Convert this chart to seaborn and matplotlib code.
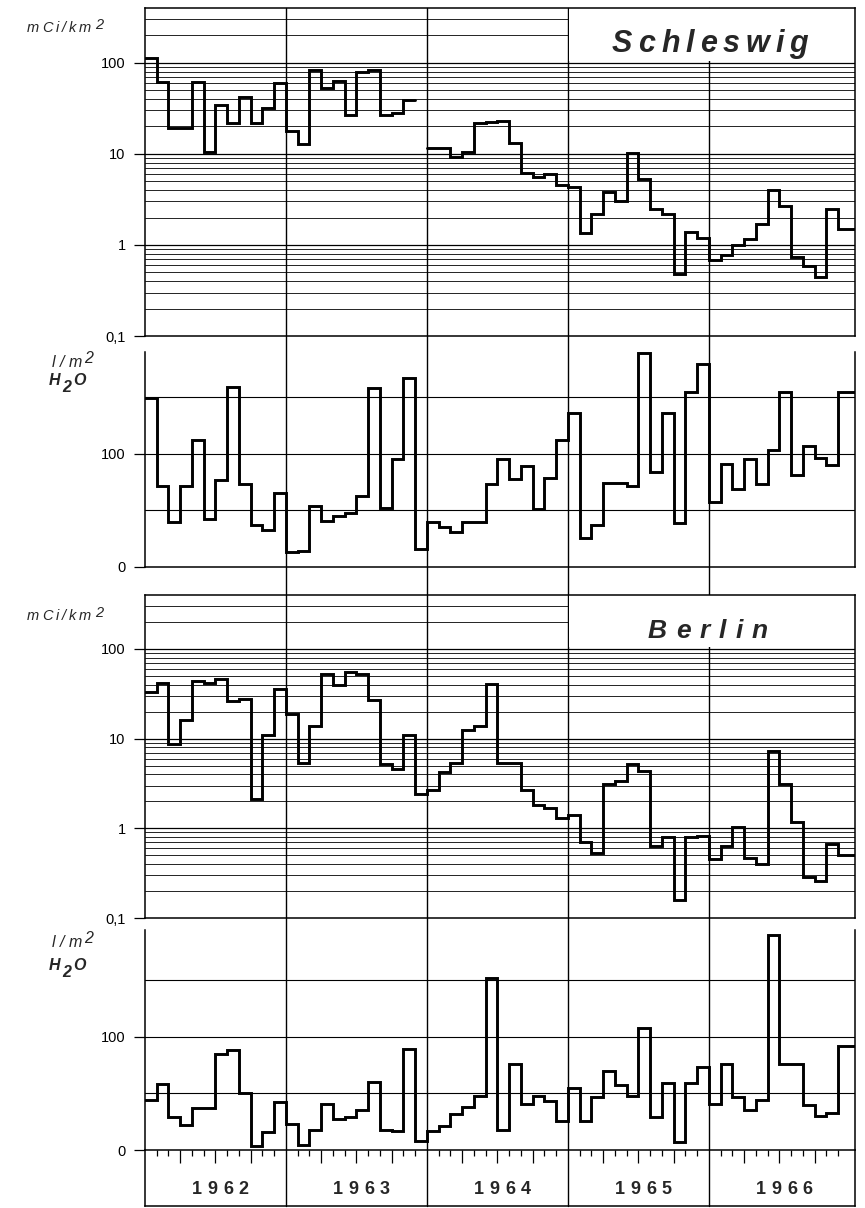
import numpy as np
import pandas as pd
import matplotlib
matplotlib.use("Agg")
import matplotlib.pyplot as plt
import seaborn as sns
from matplotlib.patches import Rectangle
from matplotlib.lines import Line2D
from matplotlib.ticker import NullLocator
import matplotlib.transforms as mtransforms

# ---------------- data (monthly values, Jan 1962 .. Dec 1966) ----------------
years = ["1962", "1963", "1964", "1965", "1966"]

schleswig_activity = [113, 62, 19, 19, 62, 10.5, 34, 22, 42, 22, 32, 60,
                      18, 13, 84, 53, 63, 27, 80, 84, 27, 28, 39, np.nan,
                      11.7, 11.7, 9.3, 10.6, 22, 22.5, 23, 13.3, 6.2, 5.6, 6.0, 4.5,
                      4.3, 1.35, 2.2, 3.8, 3.0, 10.3, 5.3, 2.5, 2.2, 0.48, 1.4, 1.18,
                      0.68, 0.78, 1.0, 1.15, 1.7, 4.0, 2.7, 0.74, 0.58, 0.45, 2.5, 1.5]

schleswig_precip = [149, 72, 40, 72, 112, 42, 77, 159, 73, 37, 33, 65,
                    13, 14, 54, 41, 45, 48, 63, 158, 52, 95, 167, 16,
                    40, 35, 31, 40, 40, 73, 95, 78, 89, 51, 79, 112,
                    136, 26, 37, 74, 74, 72, 189, 84, 136, 39, 155, 179,
                    57, 91, 69, 95, 73, 103, 155, 81, 107, 96, 90, 155]

berlin_activity = [33, 42, 8.8, 16, 44, 42, 46, 26, 28, 2.1, 11, 36,
                   19, 5.3, 14, 53, 40, 55, 52, 27, 5.2, 4.6, 11, 2.4,
                   2.7, 4.3, 5.3, 12.6, 13.7, 41, 5.4, 5.3, 2.7, 1.8, 1.7, 1.3,
                   1.4, 0.7, 0.53, 3.1, 3.4, 5.2, 4.4, 0.64, 0.8, 0.16, 0.8, 0.83,
                   0.46, 0.64, 1.04, 0.47, 0.40, 7.2, 3.1, 1.17, 0.29, 0.26, 0.67, 0.51]

berlin_precip = [44, 58, 29, 22, 37, 37, 85, 88, 50, 3.5, 16, 42,
                 23, 4.4, 18, 41, 27, 29, 35, 60, 18, 17, 89, 8,
                 17, 21, 32, 38, 48, 152, 18, 76, 41, 48, 43, 26,
                 55, 26, 47, 70, 57, 48, 108, 29, 59, 7, 59, 73,
                 41, 76, 47, 35, 44, 190, 76, 76, 40, 30, 33, 92]

activity_ticks = [0.1, 1, 10, 100]
activity_ticklabels = ["0,1", "1", "10", "100"]
precip_ticks = [0, 100]
precip_ticklabels = ["0", "100"]
precip_grid = [50, 100, 150]
stations = ["Schleswig", "Berlin"]

# ---------------- style ----------------
sns.set_style("white")
plt.rcParams["font.family"] = ["Liberation Sans", "DejaVu Sans"]

W, H = 865, 1208
fig = plt.figure(figsize=(W / 100, H / 100), dpi=100)

N = 60
XMAX = 60.43
LEFT, RIGHT = 145, 855


def add_ax(top, bottom):
    ax = fig.add_axes([LEFT / W, 1 - bottom / H, (RIGHT - LEFT) / W, (bottom - top) / H])
    ax.set_facecolor("none")
    return ax


ax1 = add_ax(8, 336)
ax2 = add_ax(352, 567)
ax3 = add_ax(595, 918)
ax4 = add_ax(930, 1150)
ax5 = add_ax(1150, 1206)


def segments(values):
    """split a monthly series into contiguous step segments"""
    vals = list(values)
    out = []
    i = 0
    while i < len(vals):
        if np.isnan(vals[i]):
            i += 1
            continue
        j = i
        while j + 1 < len(vals) and not np.isnan(vals[j + 1]):
            j += 1
        xs = list(range(i, j + 1))
        ys = vals[i:j + 1]
        xs.append(j + 1 if j + 1 < len(vals) else XMAX)
        ys.append(vals[j])
        out.append(pd.DataFrame({"month": xs, "value": ys}))
        i = j + 1
    return out


def draw_series(ax, values):
    for d in segments(values):
        sns.lineplot(data=d, x="month", y="value", drawstyle="steps-post",
                     color="black", linewidth=2.1, estimator=None, sort=False,
                     ax=ax, zorder=3, solid_joinstyle="miter")
    ax.set_xlabel("")
    ax.set_ylabel("")


def style_common(ax, top_spine):
    ax.set_xlim(0, XMAX)
    ax.set_xticks([])
    for s in ["left", "right", "bottom"]:
        ax.spines[s].set_visible(True)
        ax.spines[s].set_color("black")
        ax.spines[s].set_linewidth(1.1)
    ax.spines["top"].set_visible(top_spine)
    ax.spines["top"].set_color("black")
    ax.spines["top"].set_linewidth(1.1)
    ax.tick_params(axis="y", which="major", direction="out", length=8, width=0.9,
                   pad=6, labelsize=10.5, colors="black", left=True)


def activity_panel(ax, values, title):
    ax.set_yscale("log")
    draw_series(ax, values)
    ax.set_ylim(0.1, 400)
    for d in [-1, 0, 1, 2]:
        for k in range(1, 10):
            v = k * 10.0 ** d
            if 0.1 < v < 400:
                ax.axhline(v, color="black", lw=0.9 if k == 1 else 0.6, zorder=1)
    ax.set_yticks(activity_ticks)
    ax.set_yticklabels(activity_ticklabels)
    ax.yaxis.set_minor_locator(NullLocator())
    style_common(ax, True)
    ax.add_patch(Rectangle((36.06, 104), XMAX, 1000, facecolor="white",
                           edgecolor="none", zorder=2.4))


def precip_panel(ax, values, ymax):
    draw_series(ax, values)
    ax.set_ylim(0, ymax)
    for v in precip_grid:
        ax.axhline(v, color="black", lw=0.8, zorder=1)
    ax.set_yticks(precip_ticks)
    ax.set_yticklabels(precip_ticklabels)
    style_common(ax, False)


activity_panel(ax1, schleswig_activity, stations[0])
precip_panel(ax2, schleswig_precip, 190)
activity_panel(ax3, berlin_activity, stations[1])
precip_panel(ax4, berlin_precip, 194)

# ---------------- month tick strip ----------------
ax5.set_xlim(0, XMAX)
ax5.set_ylim(0, 1)
ax5.set_yticks([])
for s in ["left", "right", "bottom"]:
    ax5.spines[s].set_visible(True)
    ax5.spines[s].set_color("black")
    ax5.spines[s].set_linewidth(1.1)
ax5.spines["top"].set_visible(False)
ax5.xaxis.set_ticks_position("top")
quarter_ticks = [m for m in range(1, N) if m % 3 == 0 and m % 12 != 0]
month_ticks = [m for m in range(1, N) if m % 3 != 0]
ax5.set_xticks(quarter_ticks)
ax5.set_xticks(month_ticks, minor=True)
ax5.tick_params(axis="x", which="major", direction="in", length=9.5, width=0.9,
                labeltop=False, labelbottom=False, colors="black")
ax5.tick_params(axis="x", which="minor", direction="in", length=4, width=0.9,
                labeltop=False, labelbottom=False, colors="black")

# ---------------- year separator lines through all panels ----------------
blend = mtransforms.blended_transform_factory(ax1.transData, fig.transFigure)
for k in range(1, len(years)):
    ln = Line2D([12 * k, 12 * k], [1 - 8 / H, 1 - 1206 / H], transform=blend,
                color="black", lw=1.0, zorder=-1)
    fig.add_artist(ln)

# ---------------- letter-spaced text helper ----------------
renderer = fig.canvas.get_renderer()


def char_widths(text, **kw):
    ws = []
    for ch in text:
        t = fig.text(0, 0, ch, **kw)
        ws.append(t.get_window_extent(renderer).width)
        t.remove()
    return ws


def spaced_text(text, x_px, y_px, width_px=None, gap_px=None, align="center", **kw):
    ws = char_widths(text, **kw)
    if gap_px is None:
        gap_px = (width_px - sum(ws)) / max(len(text) - 1, 1)
    total = sum(ws) + gap_px * (len(text) - 1)
    x = x_px - total / 2 if align == "center" else x_px
    for ch, w in zip(text, ws):
        fig.text(x / W, 1 - y_px / H, ch, ha="left", va="baseline", **kw)
        x += w + gap_px
    return x - gap_px


# titles
spaced_text(stations[0], 710, 52, width_px=196, fontsize=22, fontweight="bold",
            fontstyle="italic", zorder=5)
spaced_text(stations[1], 708, 638, width_px=120, fontsize=19, fontweight="bold",
            fontstyle="italic", zorder=5)

# year labels
xdisp = lambda m: LEFT + m * (RIGHT - LEFT) / XMAX
for k, yr in enumerate(years):
    spaced_text(yr, xdisp(12 * k + 6.4), 1194, width_px=57, fontsize=13,
                fontweight="bold")

# unit labels
for base in (32, 620):
    spaced_text("mCi/km", 27, base, width_px=64, align="left", fontsize=10.5,
                fontstyle="italic")
    fig.text(95 / W, 1 - (base - 3) / H, "2", ha="left", va="baseline",
             fontsize=10.5, fontstyle="italic")

for base_l, base_h in ((367, 385), (947, 970)):
    spaced_text("l/m", 52, base_l, width_px=30, align="left", fontsize=11.5,
                fontstyle="italic")
    fig.text(84 / W, 1 - (base_l - 4) / H, "2", ha="left", va="baseline",
             fontsize=11.5, fontstyle="italic")
    fig.text(49 / W, 1 - base_h / H, "H", ha="left", va="baseline",
             fontsize=11.5, fontstyle="italic", fontweight="bold")
    fig.text(62 / W, 1 - (base_h + 7) / H, "2", ha="left", va="baseline",
             fontsize=11.5, fontstyle="italic", fontweight="bold")
    fig.text(73 / W, 1 - base_h / H, "O", ha="left", va="baseline",
             fontsize=11.5, fontstyle="italic", fontweight="bold")

fig.savefig("out.png", dpi=100)
